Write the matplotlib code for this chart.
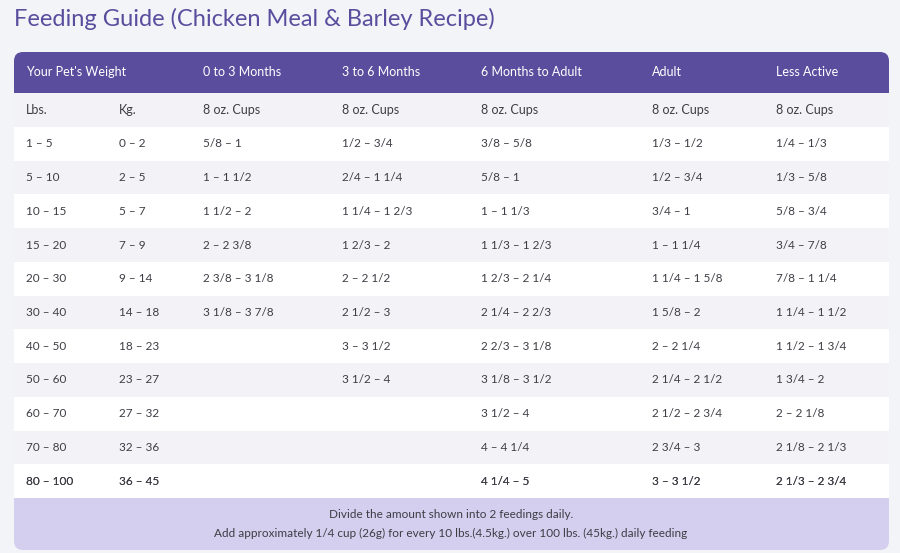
import matplotlib
matplotlib.use("Agg")
import matplotlib.pyplot as plt
from matplotlib.patches import FancyBboxPatch, Rectangle

title = "Feeding Guide (Chicken Meal & Barley Recipe)"
headers = ["Your Pet's Weight", "", "0 to 3 Months", "3 to 6 Months",
           "6 Months to Adult", "Adult", "Less Active"]
subheaders = ["Lbs.", "Kg.", "8 oz. Cups", "8 oz. Cups", "8 oz. Cups", "8 oz. Cups", "8 oz. Cups"]
lbs = ["1 – 5", "5 – 10", "10 – 15", "15 – 20", "20 – 30", "30 – 40", "40 – 50",
       "50 – 60", "60 – 70", "70 – 80", "80 – 100"]
kg = ["0 – 2", "2 – 5", "5 – 7", "7 – 9", "9 – 14", "14 – 18", "18 – 23",
      "23 – 27", "27 – 32", "32 – 36", "36 – 45"]
m0_3 = ["5/8 – 1", "1 – 1 1/2", "1 1/2 – 2", "2 – 2 3/8", "2 3/8 – 3 1/8",
        "3 1/8 – 3 7/8", "", "", "", "", ""]
m3_6 = ["1/2 – 3/4", "2/4 – 1 1/4", "1 1/4 – 1 2/3", "1 2/3 – 2", "2 – 2 1/2",
        "2 1/2 – 3", "3 – 3 1/2", "3 1/2 – 4", "", "", ""]
m6_adult = ["3/8 – 5/8", "5/8 – 1", "1 – 1 1/3", "1 1/3 – 1 2/3", "1 2/3 – 2 1/4",
            "2 1/4 – 2 2/3", "2 2/3 – 3 1/8", "3 1/8 – 3 1/2", "3 1/2 – 4",
            "4 – 4 1/4", "4 1/4 – 5"]
adult = ["1/3 – 1/2", "1/2 – 3/4", "3/4 – 1", "1 – 1 1/4", "1 1/4 – 1 5/8",
         "1 5/8 – 2", "2 – 2 1/4", "2 1/4 – 2 1/2", "2 1/2 – 2 3/4",
         "2 3/4 – 3", "3 – 3 1/2"]
less_active = ["1/4 – 1/3", "1/3 – 5/8", "5/8 – 3/4", "3/4 – 7/8", "7/8 – 1 1/4",
               "1 1/4 – 1 1/2", "1 1/2 – 1 3/4", "1 3/4 – 2", "2 – 2 1/8",
               "2 1/8 – 2 1/3", "2 1/3 – 2 3/4"]
footer = ["Divide the amount shown into 2 feedings daily.",
          "Add approximately 1/4 cup (26g) for every 10 lbs.(4.5kg.) over 100 lbs. (45kg.) daily feeding"]

columns = [lbs, kg, m0_3, m3_6, m6_adult, adult, less_active]
col_x = [26, 119, 203, 342, 481, 652, 776]

PURPLE = "#5b4d9e"
TEXT = "#3d3d45"
plt.rcParams["font.family"] = "Lato"

fig = plt.figure(figsize=(9, 5.53), dpi=100, facecolor="#f3f4f8")
ax = fig.add_axes([0, 0, 1, 1])
ax.set_xlim(0, 900)
ax.set_ylim(553, 0)
ax.axis("off")

ax.text(14, 19, title, fontsize=17, color=PURPLE, va="center", ha="left")

left, right = 14, 889
# header with rounded top
ax.add_patch(FancyBboxPatch((left, 52), right - left, 50, boxstyle="round,pad=0,rounding_size=9",
                            fc=PURPLE, ec="none"))
ax.add_patch(Rectangle((left, 93), right - left, 34, fc="#f3f3f7", ec="none"))
for i, h in enumerate(headers):
    ax.text(col_x[i], 72.5, h, fontsize=9, color="white", va="center")
for i, h in enumerate(subheaders):
    ax.text(col_x[i], 110, h, fontsize=9, color=TEXT, va="center")

row_h = (498 - 127) / len(lbs)
for r in range(len(lbs)):
    y0 = 127 + r * row_h
    ax.add_patch(Rectangle((left, y0), right - left, row_h,
                           fc="white" if r % 2 == 0 else "#f3f3f7", ec="none"))
    for c, col in enumerate(columns):
        ax.text(col_x[c], y0 + row_h / 2, col[r], fontsize=8.5, color=TEXT, va="center")

# footer with rounded bottom
ax.add_patch(FancyBboxPatch((left, 490), right - left, 60, boxstyle="round,pad=0,rounding_size=9",
                            fc="#d4cfee", ec="none"))
ax.add_patch(Rectangle((left, 465), right - left, 33, fc="white", ec="none"))
ax.text(451, 481, lbs[-1], fontsize=8.5, alpha=0)
r = len(lbs) - 1
y0 = 127 + r * row_h
for c, col in enumerate(columns):
    ax.text(col_x[c], y0 + row_h / 2, col[r], fontsize=8.5, color=TEXT, va="center")
ax.text(451, 515, footer[0], fontsize=8.5, color=TEXT, ha="center", va="center")
ax.text(451, 533, footer[1], fontsize=8.5, color=TEXT, ha="center", va="center")

fig.savefig("out.png", dpi=100, facecolor=fig.get_facecolor())
